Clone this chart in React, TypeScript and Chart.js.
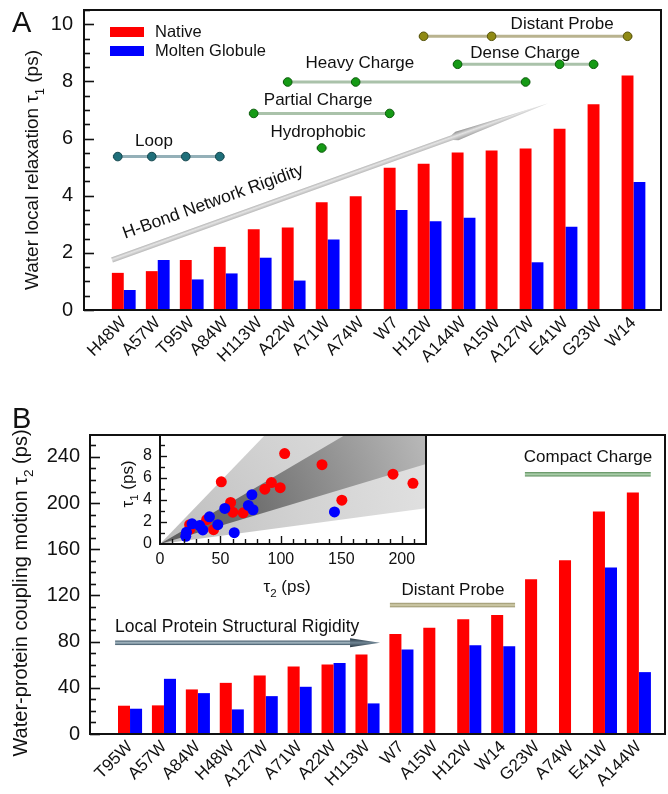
import React, { useEffect, useRef } from 'react';
import { Chart, registerables } from 'chart.js';
Chart.register(...registerables);

const FONT = "'Liberation Sans', Arial, Helvetica, sans-serif";
Chart.defaults.font.family = FONT;
Chart.defaults.color = '#111';

// ---------- Panel A data ----------
const catsA = ['H48W', 'A57W', 'T95W', 'A84W', 'H113W', 'A22W', 'A71W', 'A74W', 'W7', 'H12W', 'A144W', 'A15W', 'A127W', 'E41W', 'G23W', 'W14'];
const tau1Native = [1.3, 1.36, 1.75, 2.21, 2.83, 2.89, 3.77, 3.98, 4.98, 5.12, 5.51, 5.58, 5.65, 6.34, 7.2, 8.21];
const tau1Molten = [0.7, 1.75, 1.07, 1.28, 1.83, 1.03, 2.47, null, 3.5, 3.11, 3.23, null, 1.67, 2.91, null, 4.48];
const ticksA = [0, 2, 4, 6, 8, 10];

// ---------- Panel B data ----------
const catsB = ['T95W', 'A57W', 'A84W', 'H48W', 'A127W', 'A71W', 'A22W', 'H113W', 'W7', 'A15W', 'H12W', 'W14', 'G23W', 'A74W', 'E41W', 'A144W'];
const tau2Native = [24.5, 24.8, 38.6, 44.3, 50.7, 58.4, 60.2, 68.8, 86.7, 92.1, 99.4, 103.1, 134, 150.4, 192.7, 209.2];
const tau2Molten = [21.9, 47.8, 35.4, 21.3, 32.8, 40.9, 61.4, 26.5, 73.1, null, 76.9, 76, null, null, 144.3, 53.6];
const ticksB = [0, 40, 80, 120, 160, 200, 240];

// ---------- Inset ----------
const insetTicksX = [0, 50, 100, 150, 200];
const insetTicksY = [0, 2, 4, 6, 8];
const outerWedgeSlopes = [0.0148, 0.114];
const innerWedgeSlopes = [0.033, 0.0647];

// ---------- Annotations (data coordinates) ----------
const groupNames = ['Loop', 'Partial Charge', 'Hydrophobic', 'Heavy Charge', 'Dense Charge', 'Distant Probe'];
const groupMembers = [
  ['H48W', 'A57W', 'T95W', 'A84W'],
  ['H113W', 'W7'],
  ['A71W'],
  ['A22W', 'A74W', 'A127W'],
  ['A144W', 'E41W', 'G23W'],
  ['H12W', 'A15W', 'W14'],
];
const groupLevels = [5.37, 6.88, 5.67, 7.98, 8.6, 9.58];
const groupLabelX = [0.89, 5.72, 5.72, 6.95, 11.81, 12.9];
const groupLabelY = [5.91, 7.34, 6.22, 8.64, 8.99, 10.0];
const groupStyles = ['loop', 'charge', 'charge', 'charge', 'charge', 'probe'];
const arrowAFrom = [-0.346, 1.75];
const arrowATo = [12.49, 7.24];
const arrowALabelAt = [2.63, 3.78];

const arrowBX = [-0.44, 7.37];
const arrowBY = 79;
const labelBLocal = [-0.44, 92.7];
const probeBarX = [7.66, 11.35];
const probeBarY = 111.7;
const probeLabel = [9.52, 124.7];
const compactBarX = [11.64, 15.35];
const compactBarY = 225;
const compactLabel = [13.5, 239.7];

const STYLE: any = {
  loop: { line: '#94b0b8', dot: '#1f6f7a', edge: '#11434a' },
  charge: { line: '#aac2aa', dot: '#159a15', edge: '#0a5c0a' },
  probe: { line: '#b9b38f', dot: '#8f8a14', edge: '#55520a' },
};

function subText(ctx: any, parts: any[], cx: number, cy: number, size: number, rotate: boolean, align = 'center') {
  ctx.save();
  ctx.translate(cx, cy);
  if (rotate) ctx.rotate(-Math.PI / 2);
  let total = 0;
  const widths = parts.map((p) => {
    ctx.font = `${p.sub ? size * 0.68 : size}px ${FONT}`;
    const w = ctx.measureText(p.t).width;
    total += w;
    return w;
  });
  let xx = align === 'center' ? -total / 2 : 0;
  ctx.textAlign = 'left';
  ctx.textBaseline = 'alphabetic';
  ctx.fillStyle = '#111';
  parts.forEach((p, i) => {
    ctx.font = `${p.sub ? size * 0.68 : size}px ${FONT}`;
    ctx.fillText(p.t, xx, size * 0.36 + (p.sub ? size * 0.3 : 0));
    xx += widths[i];
  });
  ctx.restore();
}

function text(ctx: any, t: string, x: number, y: number, size: number, align = 'center') {
  ctx.save();
  ctx.font = `${size}px ${FONT}`;
  ctx.fillStyle = '#111';
  ctx.textAlign = align;
  ctx.textBaseline = 'middle';
  ctx.fillText(t, x, y);
  ctx.restore();
}

function line(ctx: any, x0: number, y0: number, x1: number, y1: number) {
  ctx.beginPath();
  ctx.moveTo(x0, y0);
  ctx.lineTo(x1, y1);
  ctx.stroke();
}

function hBar(ctx: any, x0: number, x1: number, y: number, edge: string, mid: string, th: number) {
  const g = ctx.createLinearGradient(0, y - th / 2, 0, y + th / 2);
  g.addColorStop(0, edge);
  g.addColorStop(0.5, mid);
  g.addColorStop(1, edge);
  ctx.fillStyle = g;
  ctx.fillRect(x0, y - th / 2, x1 - x0, th);
}

function frameAndYTicks(ctx: any, ca: any, y: any, max: number, minorStep: number, majorStep: number) {
  ctx.save();
  ctx.strokeStyle = '#111';
  ctx.lineWidth = 2;
  ctx.strokeRect(ca.left, ca.top, ca.right - ca.left, ca.bottom - ca.top);
  ctx.lineWidth = 1.6;
  for (let v = 0; v <= max + 1e-9; v += minorStep) {
    const isMajor = Math.abs(v / majorStep - Math.round(v / majorStep)) < 1e-6;
    const yy = Math.round(y.getPixelForValue(v)) + 0.5;
    line(ctx, ca.left, yy, ca.left + (isMajor ? 10 : 6), yy);
  }
  ctx.restore();
}

const plugA = {
  id: 'plugA',
  afterDraw(chart: any) {
    const { ctx, chartArea: ca } = chart;
    const x = chart.scales.x, y = chart.scales.y;
    const px = (v: number) => x.getPixelForValue(v);
    const py = (v: number) => y.getPixelForValue(v);
    frameAndYTicks(ctx, ca, y, 10.5, 0.5, 2);

    // y title
    subText(ctx, [{ t: 'Water local relaxation τ' }, { t: '1', sub: true }, { t: ' (ps)' }], 31, 170, 19, true);
    // letter
    ctx.save();
    ctx.font = `29px ${FONT}`;
    ctx.fillStyle = '#111';
    ctx.textBaseline = 'alphabetic';
    ctx.fillText('A', 12, 32);
    ctx.restore();

    // legend
    ctx.save();
    ctx.fillStyle = '#ff0000';
    ctx.fillRect(ca.left + 26, ca.top + 17, 34, 10);
    ctx.fillStyle = '#0000ff';
    ctx.fillRect(ca.left + 26, ca.top + 36, 34, 10);
    ctx.restore();
    text(ctx, 'Native', ca.left + 71, ca.top + 22, 16.5, 'left');
    text(ctx, 'Molten Globule', ca.left + 71, ca.top + 41, 16.5, 'left');

    // arrow
    const p0x = px(arrowAFrom[0]), p0y = py(arrowAFrom[1]);
    const p1x = px(arrowATo[0]), p1y = py(arrowATo[1]);
    const dx = p1x - p0x, dy = p1y - p0y, L = Math.hypot(dx, dy);
    const ux = dx / L, uy = dy / L, nx = -uy, ny = ux;
    const P = (t: number, w: number) => [p0x + ux * t + nx * w, p0y + uy * t + ny * w];
    const hs = 0.78 * L;
    const pts = [P(0, -2.6), P(hs, -2.6), P(hs + 5, -4.6), P(hs + 24, -3.4), P(L, 0), P(hs + 24, 3.4), P(hs + 5, 4.6), P(hs, 2.6), P(0, 2.6)];
    ctx.save();
    const ga = P(0, -4.6), gb = P(0, 4.6);
    const g = ctx.createLinearGradient(ga[0], ga[1], gb[0], gb[1]);
    g.addColorStop(0, '#8a8a8a');
    g.addColorStop(0.45, '#e4e4e4');
    g.addColorStop(1, '#9c9c9c');
    ctx.fillStyle = g;
    ctx.beginPath();
    pts.forEach((p, i) => (i ? ctx.lineTo(p[0], p[1]) : ctx.moveTo(p[0], p[1])));
    ctx.closePath();
    ctx.fill();
    ctx.restore();
    ctx.save();
    ctx.translate(px(arrowALabelAt[0]), py(arrowALabelAt[1]));
    ctx.rotate(Math.atan2(dy, dx));
    ctx.font = `17.5px ${FONT}`;
    ctx.fillStyle = '#111';
    ctx.textAlign = 'center';
    ctx.textBaseline = 'middle';
    ctx.fillText('H-Bond Network Rigidity', 0, 0);
    ctx.restore();

    // groups
    const meta = chart.getDatasetMeta(0);
    groupNames.forEach((name, gi) => {
      const st = STYLE[groupStyles[gi]];
      const xs = groupMembers[gi].map((c) => meta.data[catsA.indexOf(c)].x);
      const yy = py(groupLevels[gi]);
      const ext = xs.length === 1 ? 5.5 : 5;
      ctx.save();
      ctx.strokeStyle = st.line;
      ctx.lineWidth = 3;
      line(ctx, Math.min(...xs) - ext, yy, Math.max(...xs) + ext, yy);
      xs.forEach((xx) => {
        ctx.beginPath();
        ctx.arc(xx, yy, 4.3, 0, Math.PI * 2);
        ctx.fillStyle = st.dot;
        ctx.fill();
        ctx.lineWidth = 1;
        ctx.strokeStyle = st.edge;
        ctx.stroke();
      });
      ctx.restore();
      text(ctx, name, px(groupLabelX[gi]), py(groupLabelY[gi]), 17);
    });
  },
};

const plugB = {
  id: 'plugB',
  afterDraw(chart: any) {
    const { ctx, chartArea: ca } = chart;
    const x = chart.scales.x, y = chart.scales.y;
    const px = (v: number) => x.getPixelForValue(v);
    const py = (v: number) => y.getPixelForValue(v);
    frameAndYTicks(ctx, ca, y, 259, 10, 40);
    subText(ctx, [{ t: 'Water-protein coupling motion τ' }, { t: '2', sub: true }, { t: ' (ps)' }], 20, 198, 20, true);
    ctx.save();
    ctx.font = `29px ${FONT}`;
    ctx.fillStyle = '#111';
    ctx.fillText('B', 12, 33);
    ctx.restore();

    // local rigidity arrow
    const ax0 = px(arrowBX[0]), ax1 = px(arrowBX[1]), ay = py(arrowBY);
    const headStart = ax1 - 30;
    hBar(ctx, ax0, headStart + 2, ay, '#3c5364', '#a9bcc6', 4.5);
    ctx.save();
    const g = ctx.createLinearGradient(0, ay - 4.5, 0, ay + 4.5);
    g.addColorStop(0, '#22313d');
    g.addColorStop(0.5, '#6f8594');
    g.addColorStop(1, '#22313d');
    ctx.fillStyle = g;
    ctx.beginPath();
    ctx.moveTo(headStart, ay - 4.5);
    ctx.lineTo(ax1, ay);
    ctx.lineTo(headStart, ay + 4.5);
    ctx.closePath();
    ctx.fill();
    ctx.restore();
    text(ctx, 'Local Protein Structural Rigidity', px(labelBLocal[0]), py(labelBLocal[1]), 17.5, 'left');

    hBar(ctx, px(probeBarX[0]), px(probeBarX[1]), py(probeBarY), '#958f68', '#d6d2b0', 4.5);
    text(ctx, 'Distant Probe', px(probeLabel[0]), py(probeLabel[1]), 17);
    hBar(ctx, px(compactBarX[0]), px(compactBarX[1]), py(compactBarY), '#5a8c5a', '#b2d4b2', 4.5);
    text(ctx, 'Compact Charge', px(compactLabel[0]), py(compactLabel[1]), 17);
  },
};

const plugInset = {
  id: 'plugInset',
  beforeDatasetsDraw(chart: any) {
    const { ctx, chartArea: ca } = chart;
    const x = chart.scales.x, y = chart.scales.y;
    const ox = x.getPixelForValue(0), oy = y.getPixelForValue(0);
    const far = (s: number) => [x.getPixelForValue(1000), y.getPixelForValue(1000 * s)];
    ctx.save();
    ctx.fillStyle = '#ffffff';
    ctx.fillRect(ca.left, ca.top, ca.right - ca.left, ca.bottom - ca.top);
    ctx.beginPath();
    ctx.rect(ca.left, ca.top, ca.right - ca.left, ca.bottom - ca.top);
    ctx.clip();
    const wedge = (sl: number[], stops: any[]) => {
      const g = ctx.createRadialGradient(ox, oy, 0, ox, oy, 290);
      stops.forEach((s) => g.addColorStop(s[0], s[1]));
      const a = far(sl[0]), b = far(sl[1]);
      ctx.fillStyle = g;
      ctx.beginPath();
      ctx.moveTo(ox, oy);
      ctx.lineTo(a[0], a[1]);
      ctx.lineTo(b[0], b[1]);
      ctx.closePath();
      ctx.fill();
    };
    wedge(outerWedgeSlopes, [[0, '#bdbdbd'], [0.5, '#d2d2d2'], [1, '#e2e2e2']]);
    wedge(innerWedgeSlopes, [[0, '#5c5c5c'], [0.35, '#707070'], [1, '#bababa']]);
    ctx.restore();
  },
  afterDraw(chart: any) {
    const { ctx, chartArea: ca } = chart;
    const x = chart.scales.x, y = chart.scales.y;
    ctx.save();
    ctx.strokeStyle = '#111';
    ctx.lineWidth = 2;
    ctx.strokeRect(ca.left, ca.top, ca.right - ca.left, ca.bottom - ca.top);
    ctx.lineWidth = 1.4;
    for (let v = 10; v < 220; v += 10) {
      const xx = Math.round(x.getPixelForValue(v)) + 0.5;
      line(ctx, xx, ca.bottom, xx, ca.bottom - (v % 50 === 0 ? 8 : 5));
    }
    for (let v = 1; v < 9.9; v += 1) {
      const yy = Math.round(y.getPixelForValue(v)) + 0.5;
      line(ctx, ca.left, yy, ca.left + (v % 2 === 0 ? 7 : 5), yy);
    }
    ctx.restore();
    subText(ctx, [{ t: 'τ' }, { t: '1', sub: true }, { t: ' (ps)' }], 27, 64, 17, true);
    subText(ctx, [{ t: 'τ' }, { t: '2', sub: true }, { t: ' (ps)' }], 187, 166, 17, false);
  },
};

function catXScale(cats: string[], min: number, max: number, height: number) {
  return {
    type: 'linear',
    min,
    max,
    offset: false,
    grid: { display: false, drawTicks: false, offset: false },
    border: { display: false },
    afterBuildTicks: (s: any) => {
      s.ticks = cats.map((_, i) => ({ value: i }));
    },
    afterFit: (s: any) => {
      s.height = height;
      s.paddingLeft = 0;
      s.paddingRight = 0;
    },
    ticks: {
      autoSkip: false,
      minRotation: 45,
      maxRotation: 45,
      padding: 3,
      font: { size: 17 },
      color: '#111',
      callback: (v: number) => cats[Math.round(v)] ?? '',
    },
  };
}

function valYScale(max: number, ticks: number[], width: number, size: number, padding: number) {
  return {
    min: 0,
    max,
    grid: { display: false, drawTicks: false },
    border: { display: false },
    afterBuildTicks: (s: any) => {
      s.ticks = ticks.map((v) => ({ value: v }));
    },
    afterFit: (s: any) => {
      s.width = width;
      s.paddingTop = 0;
      s.paddingBottom = 0;
    },
    ticks: { font: { size }, color: '#111', padding },
  };
}

export default function App() {
  const aRef = useRef<HTMLCanvasElement>(null);
  const bRef = useRef<HTMLCanvasElement>(null);
  const cRef = useRef<HTMLCanvasElement>(null);

  useEffect(() => {
    const chartA = new Chart(aRef.current as any, {
      type: 'bar',
      data: {
        datasets: [
          { label: 'Native', data: catsA.map((_, i) => ({ x: i, y: tau1Native[i] })) as any, backgroundColor: '#ff0000', categoryPercentage: 0.7, barPercentage: 1 },
          { label: 'Molten Globule', data: catsA.map((_, i) => ({ x: i, y: tau1Molten[i] })) as any, backgroundColor: '#0000ff', categoryPercentage: 0.7, barPercentage: 1 },
        ],
      },
      options: {
        animation: false,
        responsive: false,
        layout: { padding: { left: 0, top: 10, right: 7, bottom: 0 } },
        plugins: { legend: { display: false }, tooltip: { enabled: false } },
        scales: {
          x: catXScale(catsA, -1.17, 15.81, 85) as any,
          y: valYScale(10.5, ticksA, 84, 20, 11) as any,
        },
      },
      plugins: [plugA],
    });

    const chartB = new Chart(bRef.current as any, {
      type: 'bar',
      data: {
        datasets: [
          { label: 'Native', data: catsB.map((_, i) => ({ x: i, y: tau2Native[i] })) as any, backgroundColor: '#ff0000', categoryPercentage: 0.71, barPercentage: 1 },
          { label: 'Molten Globule', data: catsB.map((_, i) => ({ x: i, y: tau2Molten[i] })) as any, backgroundColor: '#0000ff', categoryPercentage: 0.71, barPercentage: 1 },
        ],
      },
      options: {
        animation: false,
        responsive: false,
        layout: { padding: { left: 0, top: 40, right: 3, bottom: 0 } },
        plugins: { legend: { display: false }, tooltip: { enabled: false } },
        scales: {
          x: catXScale(catsB, -1.18, 15.77, 60) as any,
          y: valYScale(259, ticksB, 90, 20, 10) as any,
        },
      },
      plugins: [plugB],
    });

    const nativePts = catsB
      .map((c, i) => ({ x: tau2Native[i], y: tau1Native[catsA.indexOf(c)] }))
      .filter((p) => p.x != null && p.y != null);
    const moltenPts = catsB
      .map((c, i) => ({ x: tau2Molten[i], y: tau1Molten[catsA.indexOf(c)] }))
      .filter((p) => p.x != null && p.y != null);

    const chartC = new Chart(cRef.current as any, {
      type: 'scatter',
      data: {
        datasets: [
          { label: 'Native', data: nativePts as any, backgroundColor: '#ff0000', borderWidth: 0, pointRadius: 5.5, order: 2 },
          { label: 'Molten Globule', data: moltenPts as any, backgroundColor: '#0000ff', borderWidth: 0, pointRadius: 5.5, order: 1 },
        ],
      },
      options: {
        animation: false,
        responsive: false,
        layout: { padding: { left: 0, top: 15, right: 14, bottom: 0 } },
        plugins: { legend: { display: false }, tooltip: { enabled: false } },
        scales: {
          x: {
            type: 'linear',
            min: 0,
            max: 220,
            grid: { display: false, drawTicks: false },
            border: { display: false },
            afterBuildTicks: (s: any) => {
              s.ticks = insetTicksX.map((v) => ({ value: v }));
            },
            afterFit: (s: any) => {
              s.height = 56;
              s.paddingLeft = 0;
              s.paddingRight = 0;
            },
            ticks: { font: { size: 16 }, color: '#111', padding: 6, maxRotation: 0 },
          },
          y: {
            min: 0,
            max: 9.9,
            grid: { display: false, drawTicks: false },
            border: { display: false },
            afterBuildTicks: (s: any) => {
              s.ticks = insetTicksY.map((v) => ({ value: v }));
            },
            afterFit: (s: any) => {
              s.width = 60;
              s.paddingTop = 0;
              s.paddingBottom = 0;
            },
            ticks: { font: { size: 16 }, color: '#111', padding: 8 },
          },
        },
      },
      plugins: [plugInset],
    });

    return () => {
      chartA.destroy();
      chartB.destroy();
      chartC.destroy();
    };
  }, []);

  return (
    <div style={{ position: 'absolute', left: 0, top: 0, width: 668, height: 794, background: '#fff' }}>
      <canvas ref={aRef} width={668} height={395} style={{ position: 'absolute', left: 0, top: 0, width: 668, height: 395 }} />
      <canvas ref={bRef} width={668} height={399} style={{ position: 'absolute', left: 0, top: 395, width: 668, height: 399 }} />
      <canvas ref={cRef} width={340} height={180} style={{ position: 'absolute', left: 100, top: 420, width: 340, height: 180 }} />
    </div>
  );
}
